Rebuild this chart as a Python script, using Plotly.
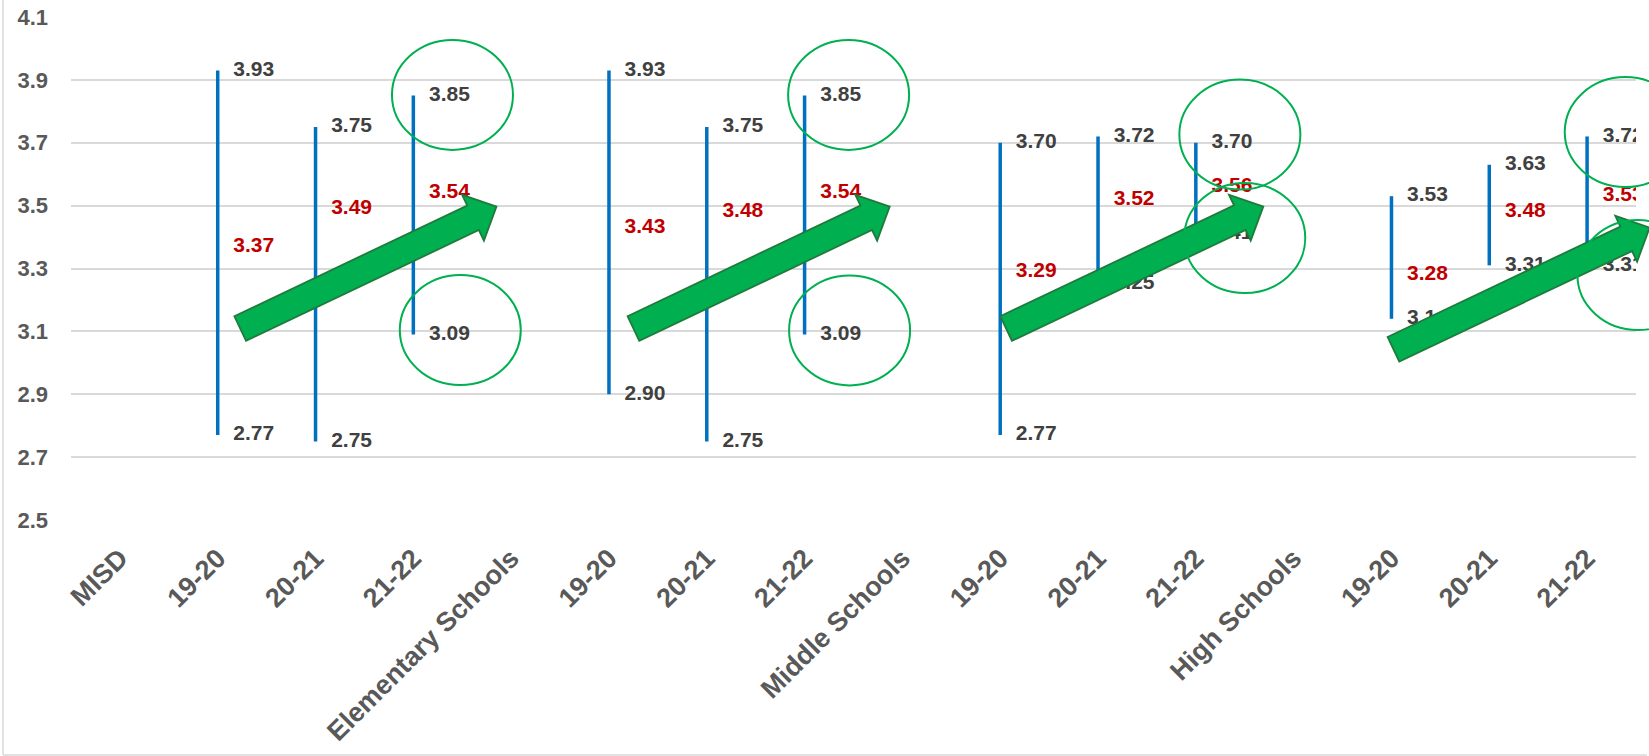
import plotly.graph_objects as go

# ---- data -------------------------------------------------------------
categories = ["MISD", "19-20", "20-21", "21-22",
              "Elementary Schools", "19-20", "20-21", "21-22",
              "Middle Schools", "19-20", "20-21", "21-22",
              "High Schools", "19-20", "20-21", "21-22"]
group_names = ["MISD", "Elementary Schools", "Middle Schools", "High Schools"]

high_vals = [3.93, 3.75, 3.85, 3.93, 3.75, 3.85, 3.70, 3.72, 3.70, 3.53, 3.63, 3.72]
low_vals = [2.77, 2.75, 3.09, 2.90, 2.75, 3.09, 2.77, 3.25, 3.41, 3.14, 3.31, 3.31]
avg_vals = [3.37, 3.49, 3.54, 3.43, 3.48, 3.54, 3.29, 3.52, 3.56, 3.28, 3.48, 3.53]

y_ticks = [2.5, 2.7, 2.9, 3.1, 3.3, 3.5, 3.7, 3.9, 4.1]

# trend arrows (tail -> tip) and highlight ellipses, in axis units
arrows = [((1.23, 3.109), (3.85, 3.497)),
          ((5.25, 3.109), (7.87, 3.497)),
          ((9.06, 3.109), (11.69, 3.497)),
          ((13.02, 3.043), (15.64, 3.430))]
ellipses = [(3.40, 3.852), (3.48, 3.104),
            (7.45, 3.852), (7.46, 3.103),
            (11.45, 3.726), (11.50, 3.397),
            (15.39, 3.734), (15.52, 3.279)]

# ---- geometry ---------------------------------------------------------
W, H = 1649, 756
ML, MR, MT, MB = 71, 13, 17, 236
PW, PH = W - ML - MR, H - MT - MB
X0, X1 = -0.5, len(categories) - 0.5
Y0, Y1 = 2.5, 4.1


def to_px(x, y):
    return (ML + (x - X0) / (X1 - X0) * PW, MT + (Y1 - y) / (Y1 - Y0) * PH)


def px_to_paper(px, py):
    return ((px - ML) / PW, (H - MB - py) / PH)


bar_x = [i for i, c in enumerate(categories) if c not in group_names]

GRAY = "#595959"
LABEL = "#404040"
RED = "#C00000"
BLUE = "#0070C0"
GREEN = "#00B050"
FONT = "Liberation Sans, Arial, sans-serif"

fig = go.Figure()

# high-low lines
lx, ly = [], []
for x, lo, hi in zip(bar_x, low_vals, high_vals):
    lx += [x, x, None]
    ly += [lo, hi, None]
fig.add_trace(go.Scatter(x=lx, y=ly, mode="lines",
                         line=dict(color=BLUE, width=3.5),
                         hoverinfo="skip", showlegend=False))

# value labels to the right of each line
label_dx = 0.16
for vals, color in ((high_vals, LABEL), (low_vals, LABEL), (avg_vals, RED)):
    fig.add_trace(go.Scatter(
        x=[x + label_dx for x in bar_x], y=vals, mode="text",
        text=[f"{v:.2f}" for v in vals], textposition="middle right",
        textfont=dict(family=FONT, size=21, color=color, weight="bold"),
        hoverinfo="skip", showlegend=False))

shapes = []

# block arrows (paper-referenced so they are not clipped at the plot edge)
shaft_h, head_h, head_len = 13.6, 25.4, 26.0
for (tx, ty), (hx, hy) in arrows:
    (ax, ay), (bx, by) = to_px(tx, ty), to_px(hx, hy)
    dx, dy = bx - ax, by - ay
    L = (dx * dx + dy * dy) ** 0.5
    ux, uy = dx / L, dy / L
    nx, ny = -uy, ux
    local = [(0, -shaft_h), (L - head_len, -shaft_h), (L - head_len, -head_h),
             (L, 0), (L - head_len, head_h), (L - head_len, shaft_h), (0, shaft_h)]
    pts = [px_to_paper(ax + s * ux + t * nx, ay + s * uy + t * ny) for s, t in local]
    path = "M " + " L ".join(f"{p[0]:.5f},{p[1]:.5f}" for p in pts) + " Z"
    shapes.append(dict(type="path", path=path, xref="paper", yref="paper",
                       fillcolor=GREEN, line=dict(color="#1F7A3C", width=1.8),
                       layer="above"))

# highlight ellipses
rx, ry = 60.5, 55.0
for cx, cy in ellipses:
    px, py = to_px(cx, cy)
    (ex0, ey0), (ex1, ey1) = px_to_paper(px - rx, py + ry), px_to_paper(px + rx, py - ry)
    shapes.append(dict(type="circle", xref="paper", yref="paper",
                       x0=ex0, x1=ex1, y0=ey0, y1=ey1,
                       line=dict(color=GREEN, width=2), layer="above"))

# chart-area frame (left and bottom edges)
(fx0, fy_top), (fx1, fy_bot) = px_to_paper(3, 0), px_to_paper(W - 2, 755)
shapes.append(dict(type="line", xref="paper", yref="paper",
                   x0=fx0, x1=fx0, y0=fy_top, y1=fy_bot,
                   line=dict(color="#D9D9D9", width=1.5), layer="below"))
shapes.append(dict(type="line", xref="paper", yref="paper",
                   x0=fx0, x1=fx1, y0=fy_bot, y1=fy_bot,
                   line=dict(color="#D9D9D9", width=1.5), layer="below"))

fig.update_layout(
    width=W, height=H, autosize=False,
    margin=dict(l=ML, r=MR, t=MT, b=MB, pad=0),
    paper_bgcolor="white", plot_bgcolor="white",
    showlegend=False, shapes=shapes,
    xaxis=dict(range=[X0, X1], tickmode="array", automargin=False,
               tickvals=list(range(len(categories))), ticktext=categories,
               tickangle=-45, showgrid=False, zeroline=False, showline=False,
               ticks="", ticklabelstandoff=16,
               tickfont=dict(family=FONT, size=27, color=GRAY, weight="bold")),
    yaxis=dict(range=[Y0, Y1], tickmode="array", tickvals=y_ticks,
               ticktext=[f"{v:.1f}" for v in y_ticks], automargin=False,
               showgrid=True, gridcolor="#D9D9D9", gridwidth=1.5,
               zeroline=False, showline=False, ticks="", ticklabelstandoff=22,
               tickfont=dict(family=FONT, size=22, color=GRAY, weight="bold")),
)

fig.write_html("out.html")
